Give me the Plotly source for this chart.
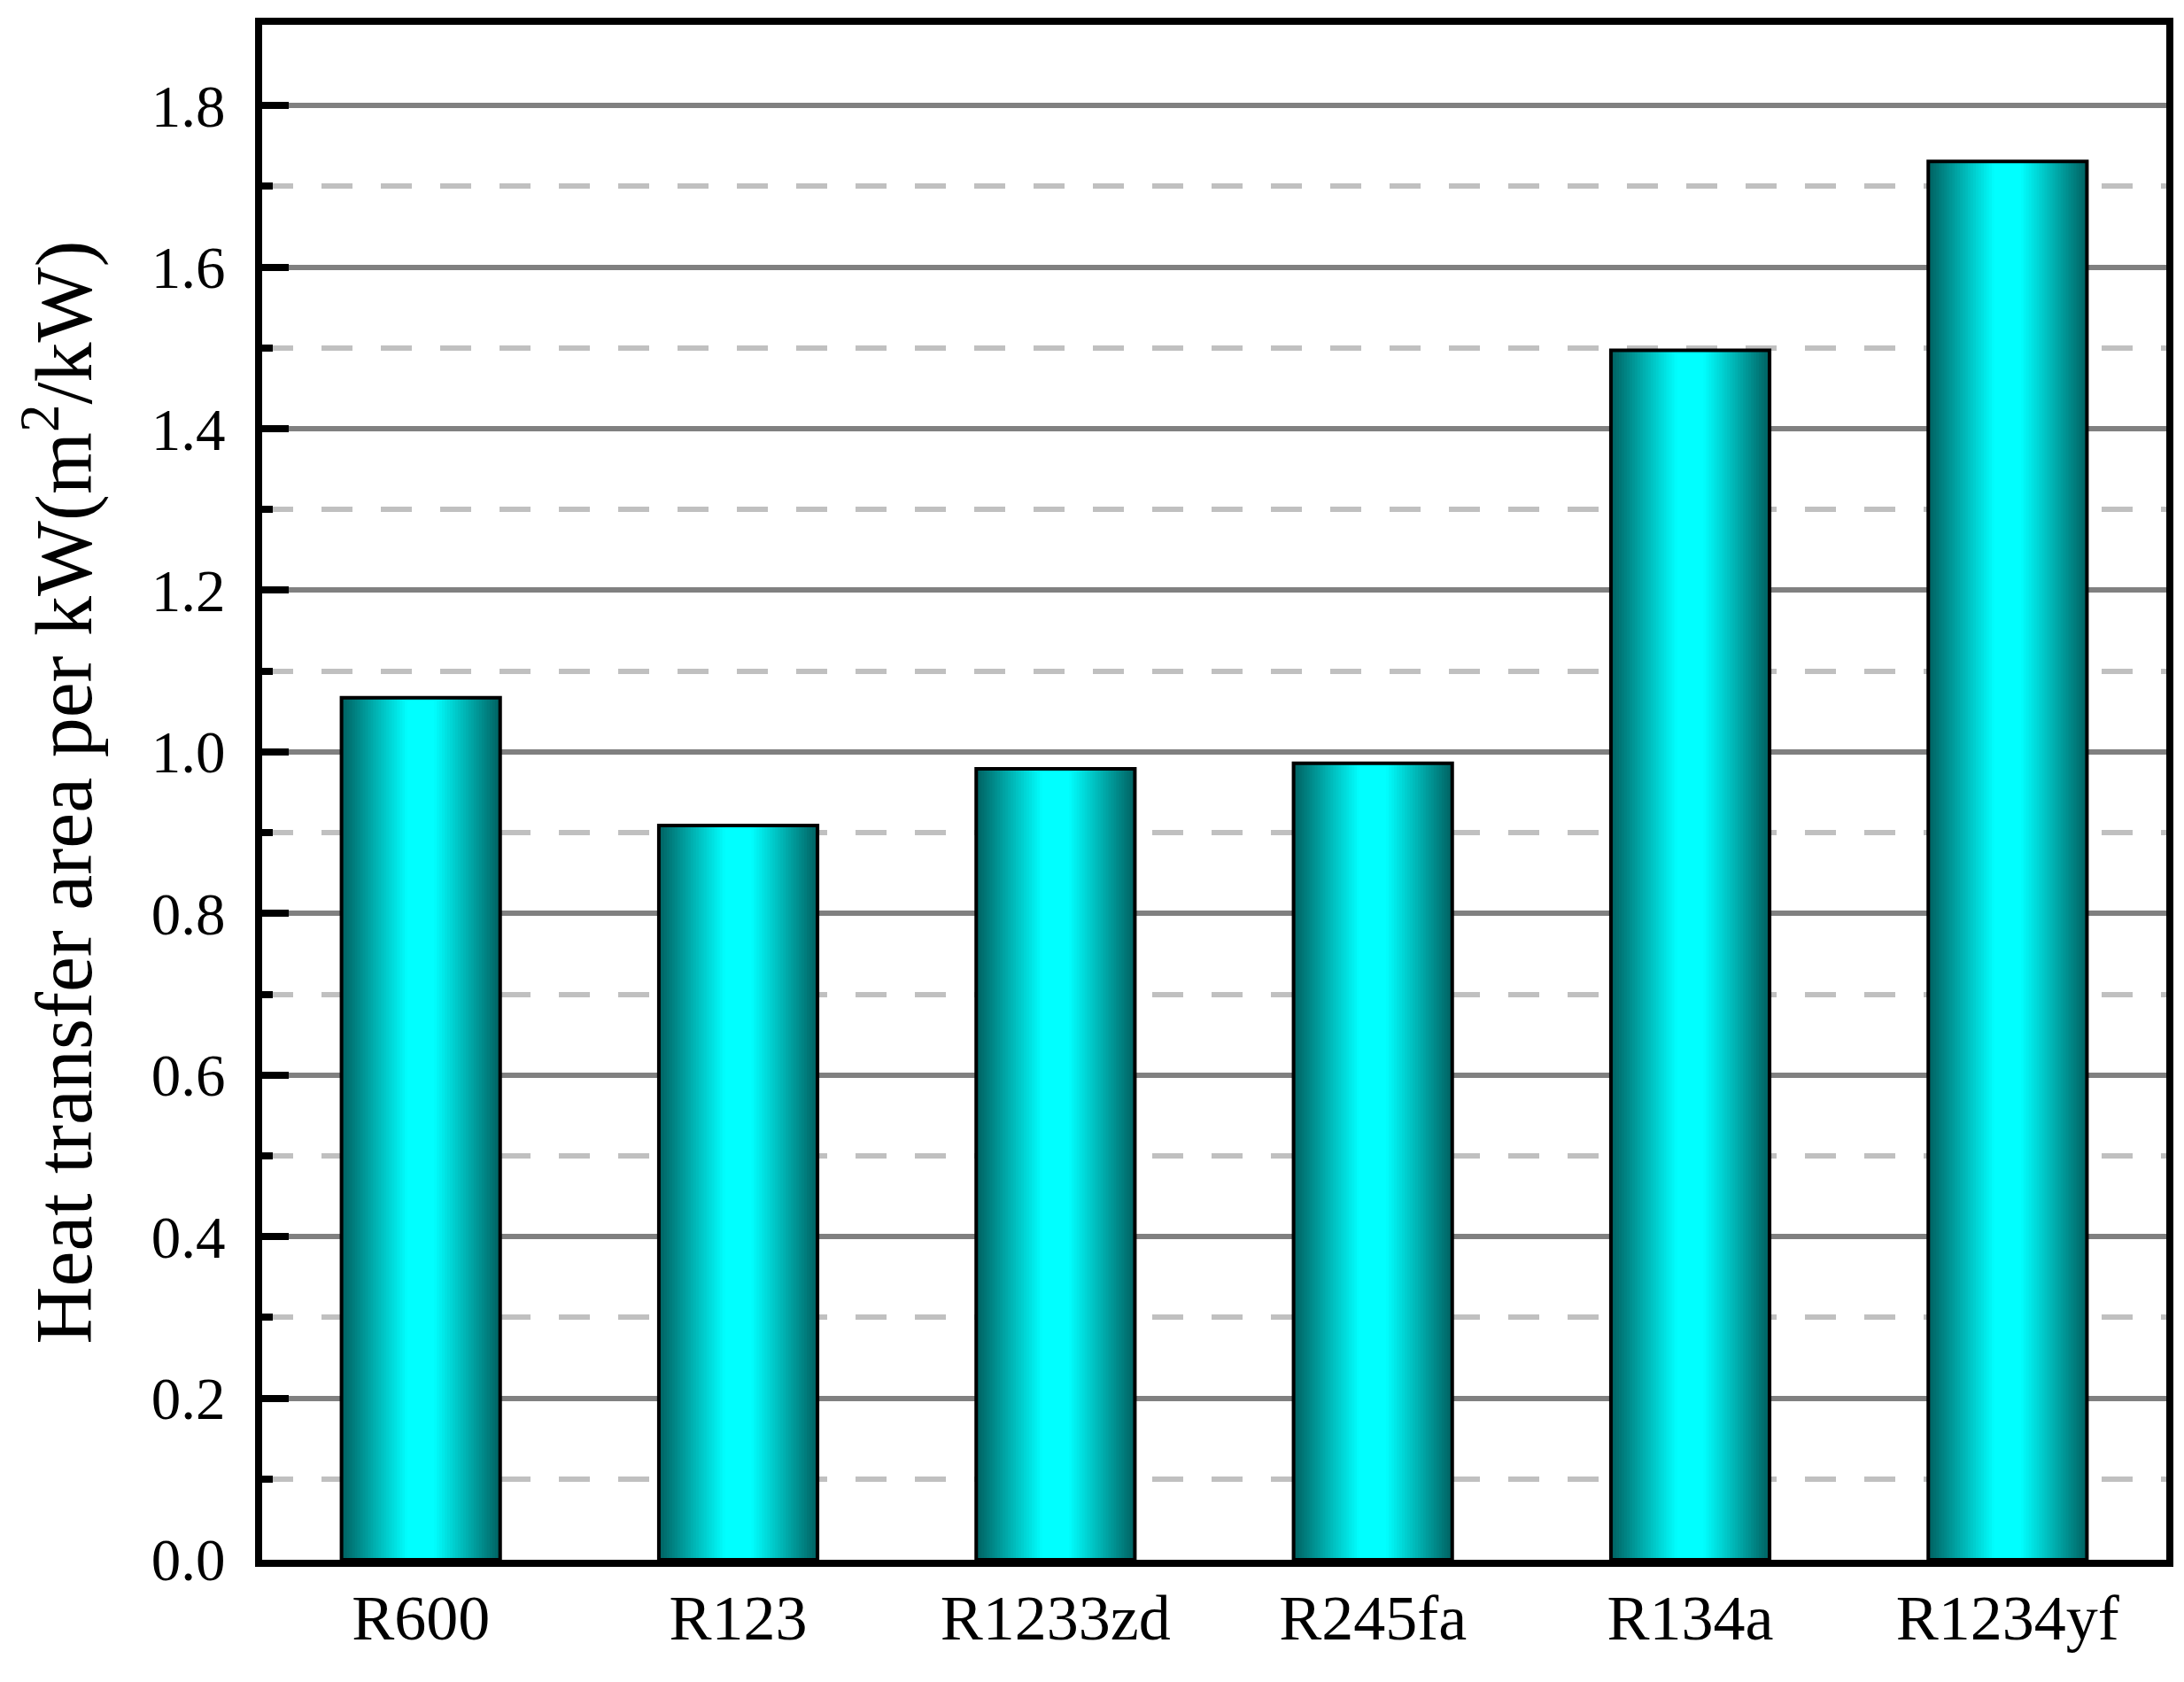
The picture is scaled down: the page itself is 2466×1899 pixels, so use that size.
import plotly.graph_objects as go

# refrigerants and heat transfer area per kW (m2/kW)
refrigerants = ["R600", "R123", "R1233zd", "R245fa", "R134a", "R1234yf"]
area_per_kw = [1.067, 0.909, 0.979, 0.986, 1.497, 1.731]

y_ticks = [0.0, 0.2, 0.4, 0.6, 0.8, 1.0, 1.2, 1.4, 1.6, 1.8]

FONT = "Liberation Serif, Times New Roman, serif"
BAR_WIDTH = 0.5
N_SLICES = 60
DARK = (0, 96, 96)
CYAN = (0, 255, 255)


def slice_color(u):
    # u goes 0..1 across the bar, dark at the edges, broad cyan band in the middle
    t = 1 - abs(2 * u - 1)
    f = min(1.0, 1.2 * t)
    r, g, b = [int(round(d + (c - d) * f)) for d, c in zip(DARK, CYAN)]
    return f"rgb({r},{g},{b})"


fig = go.Figure()

# cylinder-like gradient: stacked slices, each one runs to the right edge
step = BAR_WIDTH / N_SLICES
for i in range(N_SLICES):
    fig.add_trace(
        go.Bar(
            x=refrigerants,
            y=area_per_kw,
            width=BAR_WIDTH - i * step,
            offset=-BAR_WIDTH / 2 + i * step,
            marker=dict(color=slice_color((i + 0.5) / N_SLICES), line=dict(width=0)),
            hoverinfo="skip",
            showlegend=False,
        )
    )

# black outline on top
fig.add_trace(
    go.Bar(
        x=refrigerants,
        y=area_per_kw,
        width=BAR_WIDTH,
        offset=-BAR_WIDTH / 2,
        marker=dict(color="rgba(0,0,0,0)", line=dict(color="black", width=4)),
        showlegend=False,
    )
)

fig.update_layout(
    width=2466,
    height=1899,
    barmode="overlay",
    plot_bgcolor="white",
    paper_bgcolor="white",
    margin=dict(l=288, r=28, t=17, b=146),
    font=dict(family=FONT, color="black"),
    showlegend=False,
)

fig.update_xaxes(
    range=[-0.5, 5.5],
    showline=True,
    linecolor="black",
    linewidth=8,
    mirror=True,
    ticks="",
    showgrid=False,
    tickfont=dict(size=72, family=FONT),
    ticklabelstandoff=-4,
)

fig.update_yaxes(
    range=[0, 1.9],
    tickvals=y_ticks,
    tickformat=".1f",
    showline=True,
    linecolor="black",
    linewidth=8,
    mirror=True,
    ticks="inside",
    ticklen=30,
    tickwidth=8,
    tickcolor="black",
    showgrid=True,
    gridcolor="#808080",
    gridwidth=6,
    zeroline=False,
    tickfont=dict(size=67, family=FONT),
    ticklabelstandoff=20,
    minor=dict(
        dtick=0.1,
        tick0=0,
        ticks="inside",
        ticklen=12,
        tickwidth=8,
        tickcolor="black",
        showgrid=True,
        gridcolor="#c0c0c0",
        gridwidth=6,
        griddash="35px,32px",
    ),
    title=dict(
        text="Heat transfer area per kW(m<sup>2</sup>/kW)",
        font=dict(size=90, family=FONT),
        standoff=40,
    ),
)

fig.write_html("out.html")
